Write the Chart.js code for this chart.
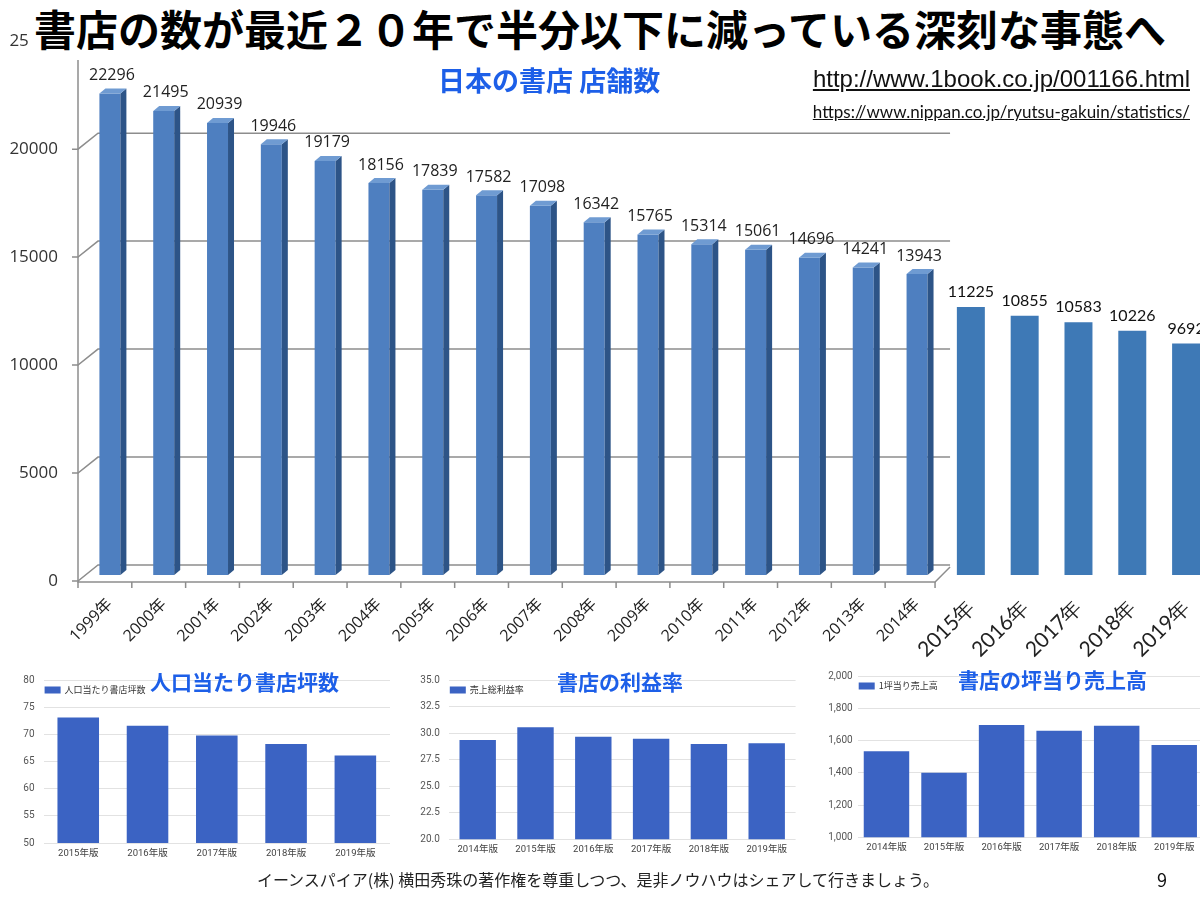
<!DOCTYPE html>
<html lang="ja">
<head>
<meta charset="utf-8">
<title>書店の数</title>
<script src="https://cdn.jsdelivr.net/npm/chart.js@4.4.1/dist/chart.umd.min.js"></script>
<style>
  html, body { margin: 0; padding: 0; background: #fff; }
  body { width: 1200px; height: 899px; position: relative; overflow: hidden; font-family: 'Noto Sans CJK JP', sans-serif; }
  .abs { position: absolute; }
  .blue { color: #1d5fe8; font-weight: 700; line-height: 1; white-space: nowrap; }
</style>
</head>
<body>

<!-- main chart (wider than the window, the 2019 bar gets cut like the slide) -->
<canvas id="chart-main" class="abs" width="1230" height="680" style="left:0; top:0;"></canvas>

<!-- three small charts -->
<canvas id="chart-pop" class="abs" width="400" height="200" style="left:0; top:665px;"></canvas>
<canvas id="chart-margin" class="abs" width="400" height="200" style="left:400px; top:665px;"></canvas>
<canvas id="chart-sales" class="abs" width="400" height="200" style="left:810px; top:665px;"></canvas>

<!-- overlay texts -->
<div class="abs" style="left:28px; top:0; width:1172px; height:60px; background:#fff;">
  <div style="position:absolute; left:6px; top:5px; font-size:42px; font-weight:700; color:#000; line-height:1.1; white-space:nowrap;">書店の数が最近２０年で半分以下に減っている深刻な事態へ</div>
</div>
<div class="abs blue" style="left:438px; top:66px; font-size:27px;">日本の書店 店舗数</div>
<div class="abs" style="right:10px; top:65px; font-family:'Liberation Sans', Arial, sans-serif; font-size:24px; color:#111; text-decoration:underline; white-space:nowrap;">http://www.1book.co.jp/001166.html</div>
<div class="abs" style="right:10px; top:101px; font-family:Lato, sans-serif; font-size:17px; color:#111; text-decoration:underline; white-space:nowrap;">https://www.nippan.co.jp/ryutsu-gakuin/statistics/</div>

<div class="abs blue" style="left:150px; top:671px; font-size:21px;">人口当たり書店坪数</div>
<div class="abs blue" style="left:557px; top:671px; font-size:21px;">書店の利益率</div>
<div class="abs blue" style="left:958px; top:669px; font-size:21px;">書店の坪当り売上高</div>

<div class="abs" style="left:0; width:1196px; top:867px; text-align:center; font-size:16px; color:#222; white-space:nowrap;">イーンスパイア(株) 横田秀珠の著作権を尊重しつつ、是非ノウハウはシェアして行きましょう。</div>
<div class="abs" style="left:1157px; top:866px; font-size:18px; color:#111;">9</div>

<script>
// ---- data ----
const years3d = ['1999年', '2000年', '2001年', '2002年', '2003年', '2004年', '2005年', '2006年',
                 '2007年', '2008年', '2009年', '2010年', '2011年', '2012年', '2013年', '2014年'];
const stores3d = [22296, 21495, 20939, 19946, 19179, 18156, 17839, 17582,
                  17098, 16342, 15765, 15314, 15061, 14696, 14241, 13943];
const yearsFlat = ['2015年', '2016年', '2017年', '2018年', '2019年'];
const storesFlat = [11225, 10855, 10583, 10226, 9692];

const popYears = ['2015年版', '2016年版', '2017年版', '2018年版', '2019年版'];
const popTsubo = [73.1, 71.6, 69.8, 68.2, 66.1];
const popLegend = '人口当たり書店坪数';

const marginYears = ['2014年版', '2015年版', '2016年版', '2017年版', '2018年版', '2019年版'];
const marginRate = [29.35, 30.55, 29.65, 29.47, 28.98, 29.04];
const marginLegend = '売上総利益率';

const salesYears = ['2014年版', '2015年版', '2016年版', '2017年版', '2018年版', '2019年版'];
const salesPerTsubo = [1533, 1400, 1696, 1661, 1692, 1573];
const salesLegend = '1坪当り売上高';

Chart.defaults.font.family = "'Open Sans', 'Noto Sans CJK JP', sans-serif";
Chart.defaults.animation = false;

// ---- main chart ----
const allYears = years3d.concat(yearsFlat);
const data3d = stores3d.concat(yearsFlat.map(() => null));
const dataFlat = years3d.map(() => null).concat(storesFlat);

// back wall, floor and axis drawn in the old excel 3d style
const wall3d = {
    id: 'wall3d',
    beforeDatasetsDraw(chart) {
        const { ctx, chartArea, scales: { x, y } } = chart;
        const ax = chartArea.left - 5;
        const catW = x.getPixelForValue(1) - x.getPixelForValue(0);
        const endX = x.getPixelForValue(years3d.length - 1) + 18;
        ctx.save();
        ctx.strokeStyle = '#8d8d8d';
        ctx.lineWidth = 1.5;
        y.ticks.forEach(t => {
            const p = y.getPixelForValue(t.value);
            ctx.beginPath();
            ctx.moveTo(ax - 6, p + 6);
            ctx.lineTo(ax, p + 6);
            ctx.lineTo(ax + 20, p - 10);
            ctx.lineTo(endX + 15, p - 10);
            ctx.stroke();
        });
        const p0 = y.getPixelForValue(0);
        ctx.beginPath();
        ctx.moveTo(ax, y.getPixelForValue(y.max) + 6);
        ctx.lineTo(ax, p0 + 7);
        ctx.lineTo(endX, p0 + 7);
        ctx.lineTo(endX + 15, p0 - 8);
        ctx.stroke();
        for (let i = 0; i <= years3d.length; i++) {
            const bx = Math.min(ax + i * catW, endX);
            ctx.beginPath();
            ctx.moveTo(bx, p0 + 7);
            ctx.lineTo(bx, p0 + 13);
            ctx.stroke();
        }
        ctx.restore();
    }
};

// side + top faces of the 3d bars, then the value labels
const bar3d = {
    id: 'bar3d',
    afterDatasetsDraw(chart) {
        const ctx = chart.ctx;
        ctx.save();
        chart.getDatasetMeta(0).data.forEach((bar, i) => {
            if (data3d[i] == null) return;
            const { x, y, base, width } = bar.getProps(['x', 'y', 'base', 'width'], true);
            const l = x - width / 2, r = x + width / 2, d = 6, h = 5;
            ctx.fillStyle = '#2d5487';
            ctx.beginPath();
            ctx.moveTo(r, y); ctx.lineTo(r + d, y - h); ctx.lineTo(r + d, base - h); ctx.lineTo(r, base);
            ctx.closePath(); ctx.fill();
            ctx.fillStyle = '#6f9bd2';
            ctx.beginPath();
            ctx.moveTo(l, y); ctx.lineTo(l + d, y - h); ctx.lineTo(r + d, y - h); ctx.lineTo(r, y);
            ctx.closePath(); ctx.fill();

            ctx.fillStyle = '#222';
            ctx.font = "16px 'Open Sans', sans-serif";
            ctx.textAlign = 'center';
            ctx.textBaseline = 'middle';
            ctx.fillText(String(data3d[i]), x + 2, y - 18);
        });
        chart.getDatasetMeta(1).data.forEach((bar, i) => {
            if (dataFlat[i] == null) return;
            const { x, y } = bar.getProps(['x', 'y'], true);
            ctx.fillStyle = '#111';
            ctx.font = "16px Lato, sans-serif";
            ctx.textAlign = 'center';
            ctx.textBaseline = 'middle';
            ctx.fillText(String(dataFlat[i]), x, y - 15);
        });
        ctx.restore();
    }
};

new Chart(document.getElementById('chart-main'), {
    type: 'bar',
    data: {
        labels: allYears,
        datasets: [
            {
                label: '店舗数',
                data: data3d,
                backgroundColor: '#4e7fc0',
                grouped: false,
                categoryPercentage: 1,
                barPercentage: 0.39,
                yAxisID: 'y'
            },
            {
                label: '店舗数 (2015-)',
                data: dataFlat,
                backgroundColor: '#3e79b6',
                grouped: false,
                categoryPercentage: 1,
                barPercentage: 0.52,
                yAxisID: 'y2'
            }
        ]
    },
    options: {
        responsive: false,
        layout: { padding: { top: 33.5, right: 17, left: 0, bottom: 0 } },
        plugins: { legend: { display: false }, tooltip: { enabled: false } },
        scales: {
            x: {
                grid: { display: false, drawTicks: false },
                border: { display: false },
                afterFit: s => { s.height = 105; },
                ticks: {
                    autoSkip: false,
                    maxRotation: 45,
                    minRotation: 45,
                    padding: 20,
                    color: '#222',
                    font: c => (c.index < years3d.length ? { size: 16 } : { size: 21, family: 'Lato, sans-serif' })
                }
            },
            y: {
                min: 0,
                max: 25000,
                grid: { display: false, drawTicks: false },
                border: { display: false },
                afterFit: s => { s.width = 83; },
                ticks: { stepSize: 5000, padding: 25, labelOffset: 6, color: '#333', font: { size: 17 },
                         callback: v => String(v) }
            },
            y2: { display: false, min: 0, max: 22600 }
        }
    },
    plugins: [wall3d, bar3d]
});

// ---- small charts ----
const legendBox = {
    id: 'legendBox',
    afterDraw(chart) {
        const { ctx, chartArea } = chart;
        const ds = chart.data.datasets[0];
        ctx.save();
        ctx.fillStyle = ds.backgroundColor;
        ctx.fillRect(chartArea.left + 1, chartArea.top + 6.5, 16, 7);
        ctx.fillStyle = '#333';
        ctx.font = "9px 'Noto Sans CJK JP', sans-serif";
        ctx.textBaseline = 'middle';
        ctx.fillText(ds.label, chartArea.left + 21, chartArea.top + 10);
        ctx.restore();
    }
};

function smallChart(id, labels, values, legend, cfg) {
    new Chart(document.getElementById(id), {
        type: 'bar',
        data: {
            labels: labels,
            datasets: [{
                label: legend,
                data: values,
                backgroundColor: '#3b63c3',
                categoryPercentage: 1,
                barPercentage: cfg.barPct
            }]
        },
        options: {
            responsive: false,
            layout: { padding: { top: cfg.top, right: cfg.right, left: 0, bottom: 0 } },
            plugins: { legend: { display: false }, tooltip: { enabled: false } },
            scales: {
                x: {
                    grid: { display: false, drawTicks: false },
                    border: { display: false },
                    afterFit: s => { s.height = cfg.xh; },
                    ticks: { maxRotation: 0, autoSkip: false, padding: 5, color: '#444',
                             font: { size: 9.5, family: "Roboto, 'Noto Sans CJK JP', sans-serif" } }
                },
                y: {
                    min: cfg.min,
                    max: cfg.max,
                    grid: { color: '#e2e2e2', drawTicks: false },
                    border: { display: false },
                    afterFit: s => { s.width = cfg.yw; },
                    ticks: { stepSize: cfg.step, padding: cfg.tickPad, color: '#555',
                             font: { size: 10, family: 'Roboto, sans-serif' }, callback: cfg.fmt }
                }
            }
        },
        plugins: [legendBox]
    });
}

smallChart('chart-pop', popYears, popTsubo, popLegend,
    { min: 50, max: 80, step: 5, top: 15, right: 10, xh: 22, yw: 43.6, tickPad: 9, barPct: 0.6, fmt: v => v });
smallChart('chart-margin', marginYears, marginRate, marginLegend,
    { min: 20, max: 35, step: 2.5, top: 10.7, right: 4.4, xh: 25.7, yw: 48.8, tickPad: 9, barPct: 0.63, fmt: v => v.toFixed(1) });
smallChart('chart-sales', salesYears, salesPerTsubo, salesLegend,
    { min: 1000, max: 2000, step: 200, top: 9, right: 7, xh: 27.7, yw: 47.7, tickPad: 5, barPct: 0.79, fmt: v => v.toLocaleString('en-US') });
</script>
</body>
</html>
